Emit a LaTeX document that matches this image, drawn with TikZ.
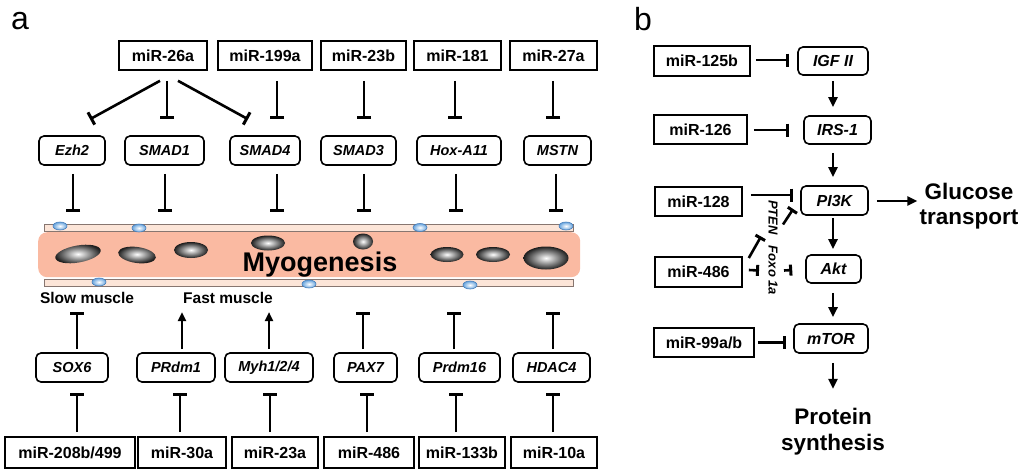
\documentclass[tikz,border=0pt]{standalone}
\usepackage{fontspec}
\setmainfont{Liberation Sans}
\usetikzlibrary{arrows.meta,shapes.geometric,calc}
\definecolor{salmon}{RGB}{250,186,162}
\definecolor{stripfill}{RGB}{252,229,216}
\definecolor{stripdraw}{RGB}{135,118,112}
\definecolor{dotout}{RGB}{105,165,222}
\definecolor{dotdraw}{RGB}{70,125,185}
\tikzset{
  mir/.style={draw, line width=1.6pt, rectangle, inner sep=0pt, font=\bfseries\fontsize{16}{18}\selectfont},
  gene/.style={draw, line width=1.6pt, rounded corners=5pt, inner sep=0pt, font=\bfseries\itshape\fontsize{14.5}{17}\selectfont},
  geneb/.style={gene, font=\bfseries\itshape\fontsize{16}{18}\selectfont},
  inh/.style={line width=2.6pt, -{Bar[width=14pt,line width=3pt]}},
  inhb/.style={line width=2.6pt, -{Bar[width=13pt,line width=3pt]}},
  inhs/.style={line width=2.6pt, -{Bar[width=11pt,line width=3pt]}},
  act/.style={line width=2.4pt, -{Triangle[length=9pt,width=8pt]}},
  actb/.style={line width=2.4pt, -{Triangle[length=10pt,width=9pt]}},
  nuc/.style={ellipse, inner sep=0pt, inner color=white, outer color=black!88},
  bdot/.style={ellipse, inner sep=0pt, minimum width=14pt, minimum height=8pt, draw=dotdraw, line width=0.6pt, inner color=white, outer color=dotout},
  strip/.style={draw=stripdraw, fill=stripfill, line width=1pt, inner sep=0pt, anchor=north west},
  bigtxt/.style={font=\bfseries\fontsize{22.5}{25}\selectfont, align=center, inner sep=0pt},
  lbl/.style={font=\bfseries\fontsize{15.5}{18}\selectfont, inner sep=0pt, anchor=base},
}
\begin{document}
\begin{tikzpicture}[x=1pt,y=-1pt]
\useasboundingbox (0,0) rectangle (1024,471);
% panel labels
\node[font=\fontsize{32}{36}\selectfont, inner sep=0pt, anchor=base west] (la) at (11,29) {a};
\node[font=\fontsize{32}{36}\selectfont, inner sep=0pt, anchor=base west] (lb) at (634,30) {b};

% ---------- panel a: top row ----------
\node[mir, minimum width=88pt, minimum height=29pt] (m26) at (163,55.5) {miR-26a};
\node[mir, minimum width=94pt, minimum height=29pt] (m199) at (265,55.5) {miR-199a};
\node[mir, minimum width=85pt, minimum height=29pt] (m23b) at (363.5,55.5) {miR-23b};
\node[mir, minimum width=87pt, minimum height=29pt] (m181) at (457.5,55.5) {miR-181};
\node[mir, minimum width=87pt, minimum height=29pt] (m27a) at (553.5,55.5) {miR-27a};

\node[gene, minimum width=66pt, minimum height=29pt] (ezh2) at (72,150.5) {Ezh2};
\node[gene, minimum width=79pt, minimum height=29pt] (smad1) at (164.5,150.5) {SMAD1};
\node[gene, minimum width=70pt, minimum height=29pt] (smad4) at (265,150.5) {SMAD4};
\node[gene, minimum width=75pt, minimum height=29pt] (smad3) at (358.5,150.5) {SMAD3};
\node[gene, minimum width=84pt, minimum height=29pt] (hox) at (459,150.5) {Hox-A11};
\node[gene, minimum width=67pt, minimum height=29pt] (mstn) at (557.5,150.5) {MSTN};

\draw[inh] ($(m26.south)+(-3,10)$) -- ($(ezh2.north)+(18,-16)$);
\draw[inh] ($(m26.south)+(4,10)$) -- ($(smad1.north)+(2.5,-16)$);
\draw[inh] ($(m26.south)+(15,10)$) -- ($(smad4.north)+(-17,-16)$);
\draw[inh] ($(m199.south)+(12,10)$) -- ($(smad4.north)+(12,-16)$);
\draw[inh] ($(m23b.south)+(0.5,10)$) -- ($(smad3.north)+(5.5,-16)$);
\draw[inh] ($(m181.south)+(-2.5,10)$) -- ($(hox.north)+(-4,-16)$);
\draw[inh] ($(m27a.south)+(-0.5,10)$) -- ($(mstn.north)+(-4.5,-16)$);

% ---------- muscle fibre ----------
\node[strip, minimum width=529pt, minimum height=7pt] (tops) at (44,224) {};
\node[fill=salmon, rounded corners=9pt, inner sep=0pt, minimum width=542pt, minimum height=45pt, anchor=north west] (fiber) at (38,232) {};
\node[strip, minimum width=529pt, minimum height=7pt] (bots) at (44,279) {};

\node[bdot] (d1) at (60,226) {};
\node[bdot] (d2) at (139,228) {};
\node[bdot] (d3) at (420,227.5) {};
\node[bdot] (d4) at (566,226) {};
\node[bdot] (d5) at (99,282) {};
\node[bdot] (d6) at (309,284) {};
\node[bdot] (d7) at (470,285) {};

\node[nuc, minimum width=46pt, minimum height=17pt, rotate=10] (n1) at (78,254) {};
\node[nuc, minimum width=38pt, minimum height=16pt, rotate=-8] (n2) at (137,255) {};
\node[nuc, minimum width=34pt, minimum height=16pt] (n3) at (191,250) {};
\node[nuc, minimum width=34pt, minimum height=15pt] (n4) at (268,243) {};
\node[nuc, minimum width=20pt, minimum height=16pt] (n5) at (363,241.5) {};
\node[nuc, minimum width=33pt, minimum height=15pt] (n6) at (447,254.5) {};
\node[nuc, minimum width=34pt, minimum height=15pt] (n7) at (493,254.5) {};
\node[nuc, minimum width=45pt, minimum height=23pt] (n8) at (546,258) {};

\node[font=\bfseries\fontsize{27}{30}\selectfont, inner sep=0pt, anchor=base] (myo) at (320,271.5) {Myogenesis};

\draw[inh] ($(ezh2.south)+(1,8)$) -- ($(tops.north -| ezh2.south)+(1,-12)$);
\draw[inh] ($(smad1.south)+(0.5,8)$) -- ($(tops.north -| smad1.south)+(0.5,-12)$);
\draw[inh] ($(smad4.south)+(12,8)$) -- ($(tops.north -| smad4.south)+(12,-12)$);
\draw[inh] ($(smad3.south)+(5.5,8)$) -- ($(tops.north -| smad3.south)+(5.5,-12)$);
\draw[inh] ($(hox.south)+(-3,8)$) -- ($(tops.north -| hox.south)+(-3,-12)$);
\draw[inh] ($(mstn.south)+(-1.5,8)$) -- ($(tops.north -| mstn.south)+(-1.5,-12)$);

\node[lbl] (slow) at (87,303.5) {Slow muscle};
\node[lbl] (fast) at (228,303.5) {Fast muscle};

% ---------- panel a: bottom ----------
\node[gene, minimum width=72pt, minimum height=29pt] (sox6) at (72,367.5) {SOX6};
\node[gene, minimum width=78pt, minimum height=29pt] (prdm1) at (176,367.5) {PRdm1};
\node[gene, minimum width=88pt, minimum height=29pt] (myh) at (269,367.5) {Myh1/2/4};
\node[gene, minimum width=63pt, minimum height=29pt] (pax7) at (365.5,367.5) {PAX7};
\node[gene, minimum width=81pt, minimum height=29pt] (prdm16) at (459.5,367.5) {Prdm16};
\node[gene, minimum width=77pt, minimum height=29pt] (hdac4) at (551.5,367.5) {HDAC4};

\node[mir, minimum width=130pt, minimum height=31pt] (m208) at (70,452.5) {miR-208b/499};
\node[mir, minimum width=88pt, minimum height=31pt] (m30a) at (182,452.5) {miR-30a};
\node[mir, minimum width=86pt, minimum height=31pt] (m23a) at (275,452.5) {miR-23a};
\node[mir, minimum width=90pt, minimum height=31pt] (m486a) at (369,452.5) {miR-486};
\node[mir, minimum width=86pt, minimum height=31pt] (m133b) at (462,452.5) {miR-133b};
\node[mir, minimum width=86pt, minimum height=31pt] (m10a) at (554,452.5) {miR-10a};

\draw[inh] ($(sox6.north)+(5,-3)$) -- ($(bots.south -| sox6.north)+(5,25)$);
\draw[act] ($(prdm1.north)+(6,-3)$) -- ($(bots.south -| prdm1.north)+(6,25)$);
\draw[act] ($(myh.north)+(0,-3)$) -- ($(bots.south -| myh.north)+(0,25)$);
\draw[inh] ($(pax7.north)+(-2.5,-3)$) -- ($(bots.south -| pax7.north)+(-2.5,25)$);
\draw[inh] ($(prdm16.north)+(-5.5,-3)$) -- ($(bots.south -| prdm16.north)+(-5.5,25)$);
\draw[inh] ($(hdac4.north)+(1.5,-3)$) -- ($(bots.south -| hdac4.north)+(1.5,25)$);

\draw[inh] ($(m208.north)+(7,-4)$) -- ($(sox6.south)+(5,10)$);
\draw[inh] ($(m30a.north)+(-2,-4)$) -- ($(prdm1.south)+(4,10)$);
\draw[inh] ($(m23a.north)+(-5,-4)$) -- ($(myh.south)+(1,10)$);
\draw[inh] ($(m486a.north)+(-2,-4)$) -- ($(pax7.south)+(1.5,10)$);
\draw[inh] ($(m133b.north)+(-6,-4)$) -- ($(prdm16.south)+(-3.5,10)$);
\draw[inh] ($(m10a.north)+(-1,-4)$) -- ($(hdac4.south)+(1.5,10)$);

% ---------- panel b ----------
\coordinate (bx) at (833,0);
\node[mir, minimum width=96pt, minimum height=30pt] (m125b) at (702,61) {miR-125b};
\node[geneb, minimum width=70pt, minimum height=28pt] (igf) at (833,61) {IGF II};
\node[mir, minimum width=93pt, minimum height=29pt] (m126) at (700.5,129.5) {miR-126};
\node[geneb, minimum width=67pt, minimum height=28pt] (irs) at (837.5,130) {IRS-1};
\node[mir, minimum width=87pt, minimum height=29pt] (m128) at (698.5,201.5) {miR-128};
\node[geneb, minimum width=67pt, minimum height=29pt] (pi3k) at (834.5,200.5) {PI3K};
\node[mir, minimum width=87pt, minimum height=30pt] (m486) at (698.5,272) {miR-486};
\node[geneb, minimum width=55pt, minimum height=28pt] (akt) at (833.5,269) {Akt};
\node[mir, minimum width=100pt, minimum height=29pt] (m99) at (704,342.5) {miR-99a/b};
\node[geneb, minimum width=74pt, minimum height=29pt] (mtor) at (831,338.5) {mTOR};

\node[bigtxt] (gluc) at (969,206) {Glucose\\transport};
\node[bigtxt, font=\bfseries\fontsize{22.5}{26}\selectfont] (prot) at (833,431.5) {Protein\\synthesis};

\node[font=\itshape\bfseries\fontsize{13}{15}\selectfont, inner sep=0pt, rotate=-90] (pten) at (773,217.5) {PTEN};
\node[font=\itshape\bfseries\fontsize{13}{15}\selectfont, inner sep=0pt, rotate=-90] (foxo) at (773,270.5) {Foxo 1a};

\draw[inhb] ($(m125b.east)+(5,-1)$) -- ($(igf.west)+(-8,-1)$);
\draw[inhb] ($(m126.east)+(6,0.5)$) -- ($(irs.west)+(-14,0)$);
\draw[inhb] ($(m128.east)+(8,-6.5)$) -- ($(pi3k.west)+(-7,-5.5)$);
\draw[inhb] ($(m99.east)+(3,0)$) -- ($(mtor.west)+(-7,4)$);

\draw[actb] ($(bx |- igf.south)+(0,5)$) -- ($(bx |- irs.north)+(0,-8)$);
\draw[actb] ($(bx |- irs.south)+(0,8)$) -- ($(bx |- pi3k.north)+(0,-8)$);
\draw[actb] ($(bx |- pi3k.south)+(0,2)$) -- ($(bx |- akt.north)+(0,-5)$);
\draw[actb] ($(bx |- akt.south)+(0,9)$) -- ($(bx |- mtor.north)+(0,-6)$);
\draw[actb] ($(bx |- mtor.south)+(0,9)$) -- ($(bx |- prot.north)+(0,-19)$);
\draw[actb] ($(pi3k.east)+(8,0.5)$) -- ($(pi3k.east -| gluc.west)+(-2,0.5)$);

\draw[inhs] ($(m486.east)+(6,-2)$) -- ($(foxo.center)+(-14,0)$);
\draw[inhs] ($(foxo.center)+(11,0)$) -- ($(akt.west)+(-13,1)$);
\draw[inhs] ($(m486.east)+(6,-14)$) -- ($(pten.center)+(-12,19)$);
\draw[inhs] ($(pten.center)+(10,7)$) -- ($(pi3k.west)+(-7,8.5)$);
\end{tikzpicture}
\end{document}
